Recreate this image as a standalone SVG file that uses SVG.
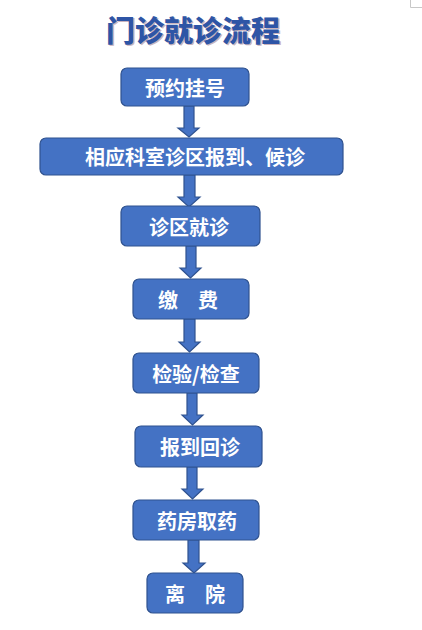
<svg xmlns="http://www.w3.org/2000/svg" width="422" height="630" viewBox="0 0 422 630">
<style>
.box{fill:#4472C4;stroke:#2F528F;stroke-width:1.2}
.arr{fill:#4472C4;stroke:#2F528F;stroke-width:1.2;stroke-linejoin:miter}
.t{fill:#fff;font-family:"Noto Sans CJK SC",sans-serif;font-weight:700;font-size:20px;text-anchor:middle;dominant-baseline:central}
.title{font-family:"Noto Sans CJK SC",sans-serif;font-weight:900;font-size:29px;text-anchor:middle}
</style>
<rect width="422" height="630" fill="#fff"/>
<path d="M410.5,0 V7.5 H422" fill="none" stroke="#c8c8c8" stroke-width="1"/>
<g id="title">
<text class="title" x="194.5" y="43" fill="#c9b3bd">门诊就诊流程</text>
<text class="title" x="193" y="42" fill="#2E55A6">门诊就诊流程</text>
</g>
<g id="connectors">
<path class="arr" d="M184,106 V128 H178 L189,137 L199,128 H194 V106 Z"/>
<path class="arr" d="M184,175 V197 H178 L189,207 L200,197 H195 V175 Z"/>
<path class="arr" d="M186,246 V268 H180 L190.5,278 L201,268 H196 V246 Z"/>
<path class="arr" d="M184,319 V342 H179 L189.5,352 L200,342 H195 V319 Z"/>
<path class="arr" d="M187,393 V415 H182 L192.5,425 L203,415 H197 V393 Z"/>
<path class="arr" d="M187,467 V489 H182 L192.5,499 L203,489 H197 V467 Z"/>
<path class="arr" d="M188,540 V563 H183 L194,573 L205,563 H199 V540 Z"/>
</g>
<g id="n1"><rect class="box" x="121" y="68" width="128" height="38" rx="6"/><text class="t" x="185" y="87">预约挂号</text></g>
<g id="n2"><rect class="box" x="40" y="138" width="303" height="37" rx="6"/><text class="t" x="195" y="156.5">相应科室诊区报到、候诊</text></g>
<g id="n3"><rect class="box" x="121" y="206" width="139" height="40" rx="6"/><text class="t" x="189" y="226">诊区就诊</text></g>
<g id="n4"><rect class="box" x="133" y="279" width="116" height="40" rx="6"/><text class="t" x="188" y="299">缴　费</text></g>
<g id="n5"><rect class="box" x="133" y="353" width="126" height="40" rx="6"/><text class="t" x="196" y="373">检验/检查</text></g>
<g id="n6"><rect class="box" x="135" y="426" width="127" height="41" rx="6"/><text class="t" x="200" y="446.5">报到回诊</text></g>
<g id="n7"><rect class="box" x="133" y="500" width="126" height="40" rx="6"/><text class="t" x="197" y="520">药房取药</text></g>
<g id="n8"><rect class="box" x="147" y="573" width="96" height="40" rx="6"/><text class="t" x="195" y="593">离　院</text></g>
</svg>
